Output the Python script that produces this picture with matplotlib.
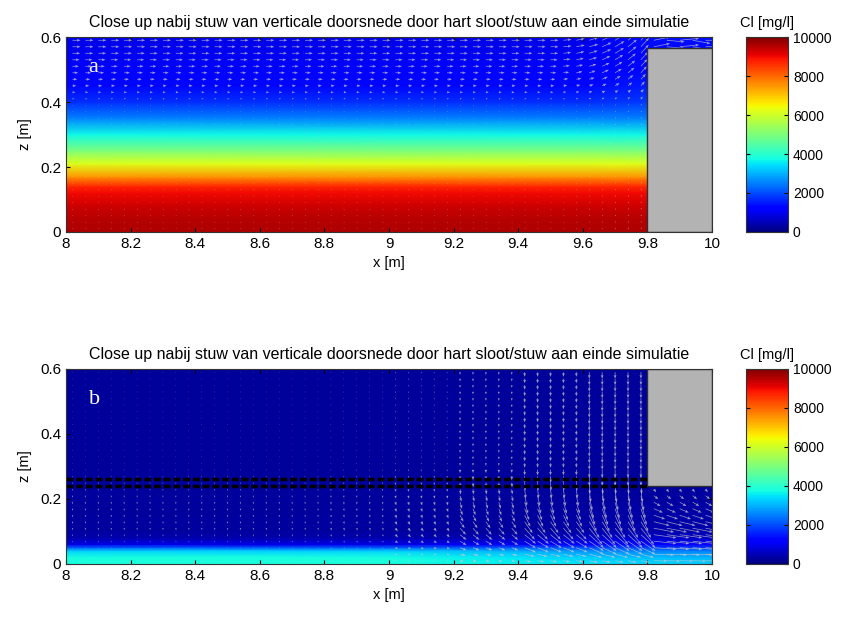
import numpy as np
import matplotlib.pyplot as plt
from matplotlib.patches import Rectangle

plt.rcParams['font.family'] = ['Liberation Sans', 'DejaVu Sans']
plt.rcParams['font.size'] = 10

title_txt = "Close up nabij stuw van verticale doorsnede door hart sloot/stuw aan einde simulatie"
cbar_title = "Cl [mg/l]"
xticks = [8, 8.2, 8.4, 8.6, 8.8, 9, 9.2, 9.4, 9.6, 9.8, 10]
xtick_labels = ["8", "8.2", "8.4", "8.6", "8.8", "9", "9.2", "9.4", "9.6", "9.8", "10"]
yticks = [0, 0.2, 0.4, 0.6]
ytick_labels = ["0", "0.2", "0.4", "0.6"]
cbar_ticks = [0, 2000, 4000, 6000, 8000, 10000]

# ---------------- panel a: chloride (mg/l), layered ----------------
xa_nodes = [8.0, 9.6, 9.8, 10.0]
za_nodes = [0, 0.04, 0.08, 0.12, 0.14, 0.17, 0.21, 0.25, 0.30, 0.35, 0.40, 0.45, 0.50, 0.55, 0.60]
cl_a = [9600, 9500, 9300, 9000, 8700, 7500, 6200, 5000, 3700, 2500, 1700, 1300, 1100, 1000, 900]
cl_a_weir = [9600, 9500, 9300, 9000, 8700, 7500, 6200, 5000, 3700, 2500, 1800, 1500, 1300, 1300, 1400]
weir_top_a = 0.565

# ---------------- panel b: chloride (mg/l), thin bottom layer ----------------
xb_nodes = [8.0, 9.0, 9.4, 9.7, 10.0]
zb_nodes = [0, 0.02, 0.04, 0.05, 0.06, 0.08, 0.10, 0.24, 0.60]
cl_b = [
    [3800, 3800, 3600, 3400, 3300],
    [3800, 3800, 3500, 3200, 3000],
    [3300, 3300, 3000, 2600, 2500],
    [2200, 2200, 2200, 2000, 1800],
    [900, 900, 1200, 1300, 1200],
    [400, 400, 500, 700, 600],
    [300, 300, 300, 400, 400],
    [250, 250, 250, 250, 250],
    [250, 250, 250, 250, 250],
]
weir_bot_b = 0.24
dash_levels_b = [0.24, 0.26]

# ---------------- velocity arrows ----------------
qx = np.arange(8.02, 10.0, 0.04)
qz = np.arange(0.01, 0.6, 0.02)

# panel a: horizontal velocity per row (bottom -> top), arrow length in m
u_a_rows = [0.003] * 20 + [0.006, 0.009, 0.012, 0.015, 0.018, 0.02, 0.022, 0.024, 0.025, 0.025]
# upward turn towards the weir crest (columns 9.54 .. 9.78)
tilt_cols_a = [38, 39, 40, 41, 42, 43, 44]
tilt_w_a = [0.1, 0.2, 0.3, 0.45, 0.6, 0.8, 1.1]
tilt_u_a = [1.0, 1.05, 1.1, 1.15, 1.15, 1.1, 1.0]
# over the weir crest (columns 9.82 .. 9.98, top two rows)
over_u_a = [0.05, 0.055, 0.06, 0.055, 0.05]
over_w_a = [0.01, -0.005, 0.006, -0.01, 0.0]

# panel b: block values per 0.2 m and row profiles (bottom -> top)
down_b_blocks = [0.006, 0.006, 0.006, 0.006, 0.007, 0.01, 0.02, 0.035, 0.05, 0.012]
right_b_blocks = [0.001, 0.001, 0.001, 0.002, 0.003, 0.008, 0.02, 0.035, 0.045, 0.07]
down_b_rows = [0.1, 0.2, 0.4, 0.6, 0.8, 1.0, 1.0, 1.0, 1.0, 1.0, 0.9, 0.8, 0.7, 0.6, 0.5] + [0.4] * 15
right_b_rows = [0.6, 0.9, 1.0, 1.0, 1.0, 0.9, 0.7, 0.5, 0.4, 0.3, 0.2, 0.1, 0.05] + [0.0] * 17

# build arrow fields
QX, QZ = np.meshgrid(qx, qz)
Ua = np.tile(np.array(u_a_rows)[:, None], (1, len(qx)))
Wa = np.zeros_like(Ua)
for k, c in enumerate(tilt_cols_a):
    Ua[:, c] = np.array(u_a_rows) * tilt_u_a[k]
    Wa[:, c] = Ua[:, c] * tilt_w_a[k]
for k in range(5):
    Ua[:, 45 + k] = 0.0
    Ua[-2:, 45 + k] = over_u_a[k]
    Wa[-2:, 45 + k] = over_w_a[k]

col_down = np.repeat(down_b_blocks, 5)
col_right = np.repeat(right_b_blocks, 5)
Ub = np.outer(right_b_rows, col_right)
Wb = -np.outer(down_b_rows, col_down)

fig = plt.figure(figsize=(8.43, 6.17), dpi=100)
ax_a = fig.add_axes([0.0783, 0.624, 0.7663, 0.316])
ax_b = fig.add_axes([0.0783, 0.086, 0.7663, 0.316])
cax_a = fig.add_axes([0.885, 0.624, 0.0498, 0.316])
cax_b = fig.add_axes([0.885, 0.086, 0.0498, 0.316])

Ca = np.column_stack([cl_a, cl_a, cl_a_weir, cl_a_weir])
mesh_a = ax_a.pcolormesh(xa_nodes, za_nodes, Ca, cmap='jet', vmin=0, vmax=10000,
                         shading='gouraud', zorder=1)
mesh_b = ax_b.pcolormesh(xb_nodes, zb_nodes, np.array(cl_b), cmap='jet', vmin=0, vmax=10000,
                         shading='gouraud', zorder=1)

qkw = dict(angles='xy', scale_units='xy', scale=1, color='#c8c8c8', alpha=0.75, width=0.0011,
           headwidth=4, headlength=5, headaxislength=4.5, zorder=3)
ax_a.quiver(QX, QZ, Ua, Wa, **qkw)
ax_b.quiver(QX, QZ, Ub, Wb, **qkw)

ax_a.add_patch(Rectangle((9.8, 0), 0.2, weir_top_a, facecolor='#b3b3b3',
                         edgecolor='#303030', lw=1, zorder=4))
ax_b.add_patch(Rectangle((9.8, weir_bot_b), 0.2, 0.6 - weir_bot_b, facecolor='#b3b3b3',
                         edgecolor='#303030', lw=1, zorder=4))
for lev in dash_levels_b:
    ax_b.plot([8, 9.8], [lev, lev], color='black', lw=2.5, dashes=(2.0, 0.8), zorder=5)

for ax, lab, mesh, cax in [(ax_a, 'a', mesh_a, cax_a), (ax_b, 'b', mesh_b, cax_b)]:
    ax.set_xlim(8, 10)
    ax.set_ylim(0, 0.6)
    ax.set_xticks(xticks)
    ax.set_xticklabels(xtick_labels)
    ax.set_yticks(yticks)
    ax.set_yticklabels(ytick_labels)
    ax.tick_params(direction='in', length=3, top=True, right=True, labelsize=11)
    for s in ax.spines.values():
        s.set_color('#333333')
        s.set_zorder(6)
    ax.set_xlabel('x [m]', fontsize=10.5, labelpad=4)
    ax.set_ylabel('z [m]', fontsize=10.5, labelpad=6)
    ax.set_title(title_txt, fontsize=11.5, pad=7)
    ax.text(8.07, 0.505, lab, color='white', fontsize=16,
            family=['Liberation Serif', 'DejaVu Serif'], va='center', ha='left', zorder=7)

    cb = fig.colorbar(mesh, cax=cax, ticks=cbar_ticks)
    cb.outline.set_edgecolor('#333333')
    cax.tick_params(direction='in', length=3, left=True, right=True, labelsize=10)
    cax.set_title(cbar_title, fontsize=10.5, pad=7)

fig.savefig('out.png', dpi=100)
